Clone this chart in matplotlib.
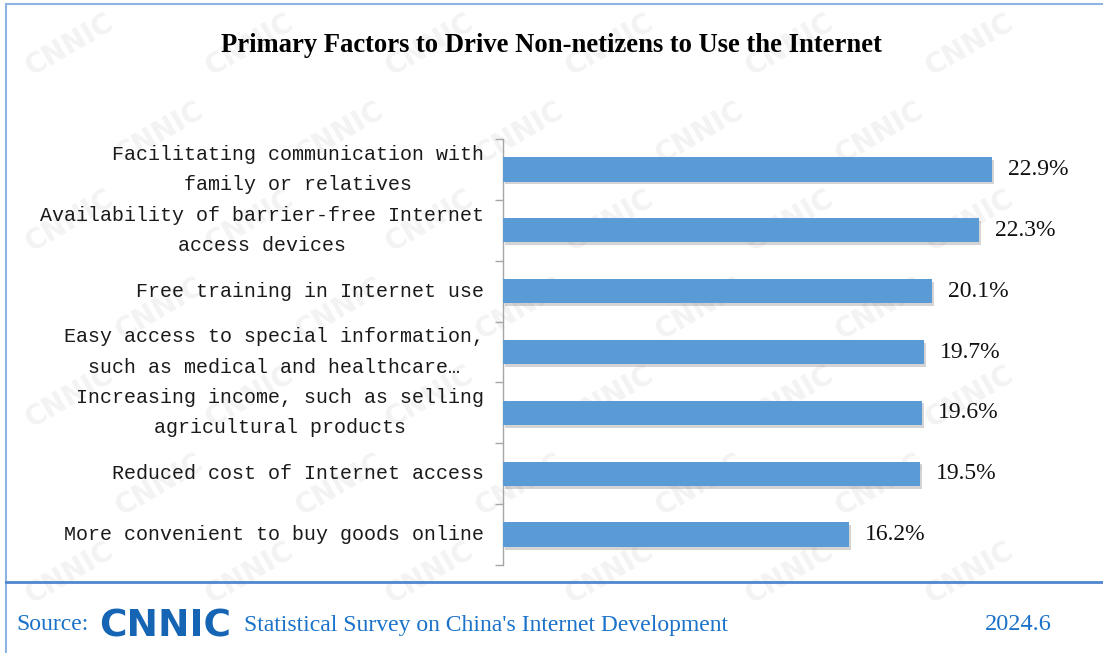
import matplotlib
matplotlib.use("Agg")
import matplotlib.pyplot as plt
from matplotlib.lines import Line2D
import matplotlib.patheffects as pe
import numpy as np

factors = [
    "Facilitating communication with\nfamily or relatives",
    "Availability of barrier-free Internet\naccess devices",
    "Free training in Internet use",
    "Easy access to special information,\nsuch as medical and healthcare\u2026",
    "Increasing income, such as selling\nagricultural products",
    "Reduced cost of Internet access",
    "More convenient to buy goods online",
]
shares = [22.9, 22.3, 20.1, 19.7, 19.6, 19.5, 16.2]

title = "Primary Factors to Drive Non-netizens to Use the Internet"
source_text = "Statistical Survey on China's Internet Development"
issue = "2024.6"

W, H = 1103, 653
fig = plt.figure(figsize=(W / 100, H / 100), dpi=100)
fig.patch.set_facecolor("white")

# faint tiled watermark behind everything
for row, yy in enumerate(np.arange(45, H - 30, 88)):
    shift = (row % 2) * 90
    for xx in np.arange(70 + shift, W - 60, 180):
        fig.text(xx / W, 1 - yy / H, "CNNIC", fontsize=20, fontweight="bold",
                 family="DejaVu Sans", color="#f3f3f3", rotation=30,
                 ha="center", va="center", zorder=-5)

ax = fig.add_axes([503 / W, 88 / H, 534 / W, 426 / H])
ax.set_facecolor("none")

y = np.arange(len(factors))
bars = ax.barh(y, shares, height=0.4, color="#5b9bd5", zorder=3)
for b in bars:
    b.set_path_effects([pe.SimplePatchShadow(offset=(1.5, -2), alpha=0.25,
                                             shadow_rgbFace="#555555"),
                        pe.Normal()])

ax.set_xlim(0, 25)
ax.set_ylim(len(factors) - 0.5, -0.5)
ax.set_xticks([])
ax.set_yticks(np.arange(len(factors) + 1) - 0.5)
ax.set_yticklabels([])
ax.tick_params(axis="y", length=6, width=1, color="#a6a6a6", direction="out")
for s in ["top", "right", "bottom"]:
    ax.spines[s].set_visible(False)
ax.spines["left"].set_color("#a6a6a6")
ax.spines["left"].set_linewidth(1)

for i, lab in enumerate(factors):
    ax.text(-0.9, i, lab, ha="right", va="center", multialignment="center",
            family=["Liberation Mono", "DejaVu Sans Mono"], fontsize=14.4,
            color="#1a1a1a", linespacing=1.75)

for i, v in enumerate(shares):
    ax.text(v + 0.75, i, f"{v:.1f}%", ha="left", va="center",
            family="Liberation Serif", fontsize=17, color="#111111")

fig.text(551 / W, 1 - 45 / H, title, ha="center", va="center",
         family="Liberation Serif", fontweight="bold", fontsize=19.2, color="black")

# frame lines and footer separator
fig.add_artist(Line2D([6 / W, 6 / W], [0, 1 - 4 / H], color="#8db3e2", lw=1.5))
fig.add_artist(Line2D([6 / W, 1], [1 - 4 / H, 1 - 4 / H], color="#8db3e2", lw=1.5))
fig.add_artist(Line2D([6 / W, 1], [1 - 582 / H, 1 - 582 / H], color="#4f86d0", lw=2))

fy = 1 - 625 / H
fig.text(16 / W, fy, "Source:", ha="left", va="center", family="Liberation Serif",
         fontsize=17, color="#1a72c9")
fig.text(99 / W, fy - 0.002, "CNNIC", ha="left", va="center", family="DejaVu Sans",
         fontweight="heavy", fontsize=27, color="#1565b4")
fig.text(244 / W, fy, source_text, ha="left", va="center", family="Liberation Serif",
         fontsize=17, color="#1a72c9")
fig.text(985 / W, fy, issue, ha="left", va="center", family="Liberation Serif",
         fontsize=17.5, color="#1a72c9")

fig.savefig("out.png", dpi=100, facecolor="white")
